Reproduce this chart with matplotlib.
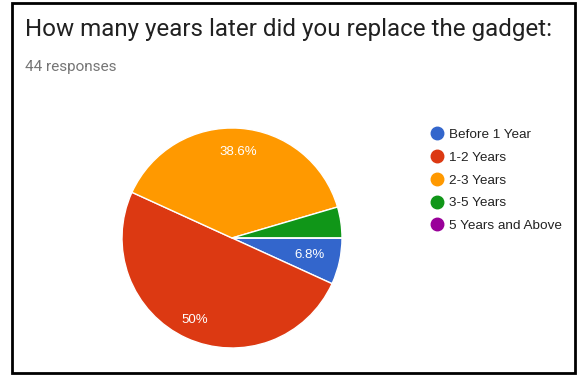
import numpy as np
import matplotlib.pyplot as plt
from matplotlib.lines import Line2D
from matplotlib.patches import Rectangle

title = "How many years later did you replace the gadget:"
subtitle = "44 responses"
categories = ["Before 1 Year", "1-2 Years", "2-3 Years", "3-5 Years", "5 Years and Above"]
counts = [3, 22, 17, 2, 0]
colors = ["#3366cc", "#dc3912", "#ff9900", "#109618", "#990099"]

W, H = 579, 376
fig = plt.figure(figsize=(W / 100, H / 100), dpi=100)

# frame around the whole card
fig.patches.append(Rectangle((12 / W, 3 / H), 563 / W, 370 / H, transform=fig.transFigure,
                             fill=False, edgecolor="black", linewidth=2))

fig.text(25 / W, 1 - 36 / H, title, family="Roboto", fontsize=17.4, color="#212121",
         va="baseline", ha="left")
fig.text(25 / W, 1 - 71 / H, subtitle, family="Roboto", fontsize=11, color="#757575",
         va="baseline", ha="left")

cx, cy, r = 232, 238, 110
ax = fig.add_axes([(cx - r) / W, (H - cy - r) / H, 2 * r / W, 2 * r / H])


def pct_label(p):
    return f"{p:.1f}%".replace(".0%", "%") if p >= 5 else ""


wedges, texts, autotexts = ax.pie(counts, colors=colors, startangle=0, counterclock=False,
                                  autopct=pct_label, pctdistance=0.76,
                                  wedgeprops=dict(edgecolor="white", linewidth=1),
                                  textprops=dict(color="white", fontsize=9.5, family="Liberation Sans"))

# push the labels of the big slices a bit further out than the small one
label_dist = [0.72, 0.82, 0.78, 0.76, 0.76]
for w, t, d in zip(wedges, autotexts, label_dist):
    mid = np.deg2rad((w.theta1 + w.theta2) / 2)
    t.set_position((d * np.cos(mid), d * np.sin(mid)))

ax.set_xlim(-1, 1)
ax.set_ylim(-1, 1)
ax.set_aspect("equal")
ax.axis("off")

handles = [Line2D([], [], marker="o", linestyle="", markersize=9, color=c) for c in colors]
fig.legend(handles, categories, loc="upper left", bbox_to_anchor=(431.5 / W, 1 - 128.5 / H),
           frameon=False, handlelength=0.8, handletextpad=0.49, labelspacing=0.77,
           borderpad=0, borderaxespad=0,
           prop=dict(family="Liberation Sans", size=9.7), labelcolor="#222222")

fig.savefig("out.png", dpi=100)
